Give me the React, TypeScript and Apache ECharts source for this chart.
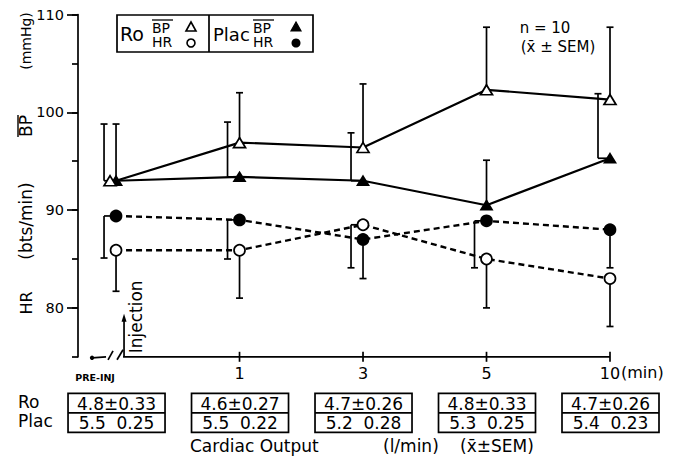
import React, { useEffect, useRef } from "react";
import * as echarts from "echarts";

// ---------- data ----------
const timeLabels = ["PRE-INJ", "1", "3", "5", "10"];
const timePos = [0, 1, 2, 3, 4];
const yTickLabels = [80, 90, 100, 110];

const roBP = [93.0, 96.9, 96.4, 102.3, 101.3];
const roBPsem = [5.8, 5.1, 6.5, 6.4, 7.4];
const placBP = [93.0, 93.4, 93.0, 90.5, 95.3];
const placBPsem = [5.8, 5.6, 4.9, 4.6, 6.6];
const roHR = [85.9, 85.9, 88.5, 85.0, 83.0];
const roHRsem = [4.2, 4.9, 4.4, 5.0, 4.9];
const placHR = [89.4, 89.0, 87.0, 88.9, 88.0];
const placHRsem = [4.3, 4.0, 4.0, 4.8, 3.9];

// which error bars are drawn shifted to the left of their marker (style)
const roBPshift = [1, 0, 0, 0, 0];
const placBPshift = [0, 1, 1, 0, 1];
const roHRshift = [0, 0, 1, 0, 0];
const placHRshift = [1, 1, 0, 1, 0];

const coRoMean = [4.8, 4.6, 4.7, 4.8, 4.7];
const coRoSem = [0.33, 0.27, 0.26, 0.33, 0.26];
const coPlacMean = [5.5, 5.5, 5.2, 5.3, 5.4];
const coPlacSem = [0.25, 0.22, 0.28, 0.25, 0.23];

const FONT = "DejaVu Sans";
const Y_MIN = 75;
const Y_MAX = 110;

function errSeries(name: string, mean: number[], sem: number[], shift: number[], dir: number) {
  return {
    type: "custom",
    name: name + "-err",
    yAxisIndex: 0,
    z: 2,
    silent: true,
    data: timePos.map((p, i) => [p, mean[i], sem[i], shift[i], dir]),
    renderItem: (params: any, api: any) => {
      const x = api.value(0);
      const m = api.value(1);
      const e = api.value(2);
      const s = api.value(3);
      const d = api.value(4);
      const p0 = api.coord([x, m]);
      const p1 = api.coord([x, m + d * e]);
      const bx = p0[0] - s * 12;
      const st = { stroke: "#000", lineWidth: 1.7 };
      const children: any[] = [
        { type: "line", shape: { x1: bx, y1: p0[1], x2: bx, y2: p1[1] }, style: st },
        { type: "line", shape: { x1: bx - 3.5, y1: p1[1], x2: bx + 3.5, y2: p1[1] }, style: st },
      ];
      if (s) {
        children.push({ type: "line", shape: { x1: bx, y1: p0[1], x2: p0[0], y2: p0[1] }, style: st });
      }
      return { type: "group", children };
    },
  };
}

function lineSeries(name: string, vals: number[], symbol: string, open: boolean, dashed: boolean, size: any) {
  return {
    type: "line",
    name,
    yAxisIndex: 0,
    z: 4,
    data: timePos.map((p, i) => {
      const item: any = { value: [p, vals[i]] };
      if (name === "roBP" && i === 0) item.symbolOffset = [-6, 0];
      return item;
    }),
    symbol,
    symbolSize: size,
    showSymbol: true,
    lineStyle: { color: "#000", width: dashed ? 2.4 : 2.2, type: dashed ? [6, 4] : "solid" },
    itemStyle: { color: open ? "#fff" : "#000", borderColor: "#000", borderWidth: 1.7, opacity: 1 },
    emphasis: { disabled: true },
  };
}

export default function App() {
  const ref = useRef<HTMLDivElement>(null);

  useEffect(() => {
    document.body.style.margin = "0";
    if (!ref.current) return;
    const chart = echarts.init(ref.current, undefined, { renderer: "svg" });

    const txt = (text: string, x: number, y: number, size: number, extra: any = {}) => ({
      type: "text",
      x,
      y,
      ...(extra.rotation !== undefined ? { rotation: extra.rotation } : {}),
      style: {
        text,
        fontSize: size,
        fontFamily: FONT,
        fontWeight: extra.weight || "normal",
        fill: "#000",
        align: extra.align || "left",
        verticalAlign: "middle",
      },
    });
    const ln = (x1: number, y1: number, x2: number, y2: number, w = 1.5) => ({
      type: "line",
      shape: { x1, y1, x2, y2 },
      style: { stroke: "#000", lineWidth: w },
    });

    const graphic: any[] = [
      // legend box
      { type: "rect", shape: { x: 117, y: 15, width: 196, height: 37 }, style: { fill: "none", stroke: "#000", lineWidth: 1.7 } },
      ln(209, 15, 209, 52, 1.7),
      txt("Ro", 120, 34, 19),
      txt("BP", 152, 27.5, 14),
      ln(152, 20, 173, 20, 1.3),
      txt("HR", 152, 42, 14),
      { type: "polygon", shape: { points: [[191, 22], [186, 31], [196, 31]] }, style: { fill: "#fff", stroke: "#000", lineWidth: 1.6 } },
      { type: "circle", shape: { cx: 191, cy: 43, r: 4 }, style: { fill: "#fff", stroke: "#000", lineWidth: 1.6 } },
      txt("Plac", 213, 34, 18),
      txt("BP", 253, 27.5, 14),
      ln(253, 20, 274, 20, 1.3),
      txt("HR", 253, 42, 14),
      { type: "polygon", shape: { points: [[296, 22], [291, 31], [301, 31]] }, style: { fill: "#000", stroke: "#000", lineWidth: 1.2 } },
      { type: "circle", shape: { cx: 296, cy: 43, r: 4.5 }, style: { fill: "#000" } },
      // n = 10
      txt("n = 10", 545, 28, 15, { align: "center" }),
      txt("(x̄ ± SEM)", 558, 47, 15, { align: "center" }),
      // y-axis titles (rotated)
      txt("(mmHg)", 26, 41, 14, { align: "center", rotation: Math.PI / 2 }),
      txt("BP", 26, 126, 17, { align: "center", rotation: Math.PI / 2 }),
      ln(18, 115, 18, 137, 1.4),
      txt("(bts/min)", 26, 221, 17, { align: "center", rotation: Math.PI / 2 }),
      txt("HR", 26, 303, 16, { align: "center", rotation: Math.PI / 2 }),
      // table row labels & footer
      txt("Ro", 18, 402, 17),
      txt("Plac", 18, 421, 17),
      txt("Cardiac Output", 190, 446, 17),
      txt("(l/min)", 383, 446, 17),
      txt("(x̄±SEM)", 460, 446, 17),
    ];

    const decor = {
      type: "custom",
      name: "decor",
      yAxisIndex: 0,
      z: 1,
      silent: true,
      data: timePos.map((p) => [p, Y_MIN]),
      renderItem: (params: any, api: any) => {
        const i = params.dataIndex;
        const p = api.coord([api.value(0), Y_MIN]);
        const st = { stroke: "#000", lineWidth: 1.7 };
        const ch: any[] = [];
        if (i > 0) {
          ch.push({ type: "line", shape: { x1: p[0], y1: p[1] - 5, x2: p[0], y2: p[1] + 5 }, style: st });
        } else {
          const end = api.coord([timePos[timePos.length - 1], Y_MIN]);
          ch.push({ type: "line", shape: { x1: p[0] + 7, y1: p[1], x2: end[0], y2: p[1] }, style: st });
          ch.push({ type: "circle", shape: { cx: p[0] - 24, cy: p[1] + 1, r: 2.2 }, style: { fill: "#000" } });
          ch.push({ type: "line", shape: { x1: p[0] - 24, y1: p[1] + 1, x2: p[0] - 10, y2: p[1] }, style: st });
          ch.push({ type: "line", shape: { x1: p[0] - 8, y1: p[1] + 3, x2: p[0] - 3, y2: p[1] - 6 }, style: st });
          ch.push({ type: "line", shape: { x1: p[0] + 1, y1: p[1] + 3, x2: p[0] + 7, y2: p[1] - 7 }, style: st });
          // injection arrow
          ch.push({ type: "line", shape: { x1: p[0] + 8, y1: p[1], x2: p[0] + 8, y2: p[1] - 38 }, style: st });
          ch.push({ type: "polygon", shape: { points: [[p[0] + 8, p[1] - 43], [p[0] + 5.5, p[1] - 35], [p[0] + 10.5, p[1] - 35]] }, style: { fill: "#000" } });
          ch.push({
            type: "text", x: p[0] + 20, y: p[1] - 40, rotation: Math.PI / 2,
            style: { text: "Injection", fontSize: 17, fontFamily: FONT, fill: "#000", align: "center", verticalAlign: "middle" },
          });
          ch.push({
            type: "text", x: p[0] - 21, y: p[1] + 21,
            style: { text: timeLabels[0], fontSize: 9.5, fontWeight: "bold", fontFamily: FONT, fill: "#000", align: "center", verticalAlign: "middle" },
          });
        }
        if (i === timePos.length - 1) {
          ch.push({
            type: "text", x: p[0] + 11, y: p[1] + 16,
            style: { text: "(min)", fontSize: 16, fontFamily: FONT, fill: "#000", align: "left", verticalAlign: "middle" },
          });
        }
        return { type: "group", children: ch };
      },
    };

    const table = {
      type: "custom",
      name: "table",
      yAxisIndex: 0,
      z: 1,
      silent: true,
      data: timePos.map((p) => [p, Y_MIN]),
      renderItem: (params: any, api: any) => {
        const i = params.dataIndex;
        const p = api.coord([api.value(0), Y_MIN]);
        const cx = p[0] + 0.5;
        const top = p[1] + 36.5;
        const w = 97;
        const h = 39;
        const st = { stroke: "#000", lineWidth: 1.7 };
        return {
          type: "group",
          children: [
            { type: "rect", shape: { x: cx - w / 2, y: top, width: w, height: h }, style: { fill: "none", ...st } },
            { type: "line", shape: { x1: cx - w / 2, y1: top + 19.5, x2: cx + w / 2, y2: top + 19.5 }, style: st },
            {
              type: "text", x: cx, y: top + 10.5,
              style: { text: `${coRoMean[i].toFixed(1)}±${coRoSem[i].toFixed(2)}`, fontSize: 17, fontFamily: FONT, fill: "#000", align: "center", verticalAlign: "middle" },
            },
            {
              type: "text", x: cx, y: top + 29.5,
              style: { text: `${coPlacMean[i].toFixed(1)}  ${coPlacSem[i].toFixed(2)}`, fontSize: 17, fontFamily: FONT, fill: "#000", align: "center", verticalAlign: "middle" },
            },
          ],
        };
      },
    };

    const option: any = {
      animation: false,
      backgroundColor: "#fff",
      grid: { left: 78, right: 63, top: 14.5, bottom: 99.2, containLabel: false, outerBoundsMode: "none" },
      xAxis: {
        type: "value",
        min: -0.308,
        max: 4,
        axisLine: { show: false, onZero: false },
        axisTick: { show: false },
        splitLine: { show: false },
        axisLabel: {
          customValues: timePos.slice(1),
          formatter: (v: number) => timeLabels[Math.round(v)],
          fontFamily: FONT,
          fontSize: 16,
          color: "#000",
          margin: 9,
        },
      },
      yAxis: [
        {
          type: "value",
          min: Y_MIN,
          max: Y_MAX,
          interval: 5,
          position: "left",
          axisLine: { show: true, onZero: false, lineStyle: { color: "#000", width: 1.7 } },
          axisTick: { show: true, length: 6, lineStyle: { color: "#000", width: 1.7 } },
          axisLabel: { show: false },
          splitLine: { show: false },
        },
        {
          type: "value",
          min: Y_MIN,
          max: Y_MAX,
          interval: 5,
          position: "left",
          axisLine: { show: false, onZero: false },
          axisTick: { show: true, length: 11, customValues: yTickLabels, lineStyle: { color: "#000", width: 1.7 } },
          axisLabel: {
            customValues: yTickLabels,
            fontFamily: FONT,
            fontSize: 14.5,
            color: "#000",
            margin: 14,
          },
          splitLine: { show: false },
        },
      ],
      graphic,
      series: [
        decor,
        table,
        errSeries("roBP", roBP, roBPsem, roBPshift, 1),
        errSeries("placBP", placBP, placBPsem, placBPshift, 1),
        errSeries("roHR", roHR, roHRsem, roHRshift, -1),
        errSeries("placHR", placHR, placHRsem, placHRshift, -1),
        lineSeries("placBP", placBP, "triangle", false, false, [11, 9]),
        lineSeries("roBP", roBP, "triangle", true, false, [12, 10]),
        lineSeries("roHR", roHR, "circle", true, true, 11),
        lineSeries("placHR", placHR, "circle", false, true, 11),
      ],
    };

    chart.setOption(option);
    return () => chart.dispose();
  }, []);

  return <div ref={ref} style={{ width: 673, height: 456 }} />;
}
